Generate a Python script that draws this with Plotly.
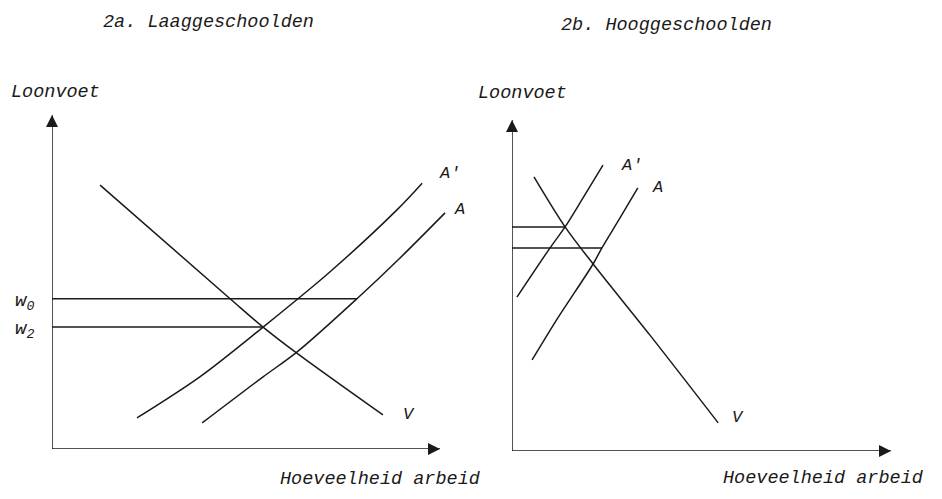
import plotly.graph_objects as go

# The page body has an 8px margin, so the figure is drawn 8px in from the corner.
OFF = 8
W, H = 942 - 2 * OFF, 499 - 2 * OFF

# ---------------- data (abstract units: quantity 0-100, wage 0-100) ----------------
# Panel 2a. Laaggeschoolden
left_V_x = [12.4, 45.9, 54.4, 63.1, 85.3]
left_V_y = [79.0, 45.0, 36.5, 28.7, 10.2]
left_A1_x = [21.9, 38.1, 54.4, 71.6, 88.9, 95.4]
left_A1_y = [9.3, 21.6, 36.5, 53.0, 71.6, 79.6]
left_A_x = [38.7, 54.4, 63.1, 78.6, 89.7, 101.3]
left_A_y = [7.8, 21.6, 29.0, 45.0, 57.2, 70.7]
left_w_levels = [45.0, 36.5]        # w0, w2
left_w_ends = [78.6, 54.4]          # where the horizontal lines stop
left_w_labels = ["w<sub>0</sub>", "w<sub>2</sub>"]

# Panel 2b. Hooggeschoolden
right_A1_x = [1.3, 10.0, 14.0, 18.7, 24.0]
right_A1_y = [46.5, 61.3, 67.7, 76.4, 86.4]
right_A_x = [5.3, 12.1, 21.4, 23.7, 28.5, 33.2]
right_A_y = [27.5, 40.2, 56.5, 61.3, 70.4, 79.5]
right_V_x = [5.8, 14.0, 21.4, 36.4, 54.4]
right_V_y = [82.8, 67.7, 56.5, 35.0, 8.5]
right_w_levels = [67.7, 61.3]
right_w_ends = [14.0, 23.7]

axis_max = 100  # arrow tip of both axes, in data units

titles = ["2a. Laaggeschoolden", "2b. Hooggeschoolden"]
y_title = "Loonvoet"
x_title = "Hoeveelheid arbeid"
curve_labels = ["A'", "A", "V"]

# ---------------- figure ----------------
FONT = "Liberation Mono"
INK = "#1a1a1a"
LW = 1.5

fig = go.Figure()

def line(x, y, xa, ya, shape="linear"):
    fig.add_trace(go.Scatter(x=x, y=y, mode="lines", xaxis=xa, yaxis=ya,
                             line=dict(color=INK, width=LW, shape=shape, smoothing=0.9),
                             hoverinfo="skip", showlegend=False))

def axis_arrow(x, y, xa, ya, symbol):
    line(x, y, xa, ya)
    fig.add_trace(go.Scatter(x=[x[-1]], y=[y[-1]], mode="markers", xaxis=xa, yaxis=ya,
                             marker=dict(symbol=symbol, size=12, color=INK, line=dict(width=0)),
                             cliponaxis=False, hoverinfo="skip", showlegend=False))

for xa, ya in (("x", "y"), ("x2", "y2")):
    axis_arrow([0, 0], [0, axis_max], xa, ya, "arrow-up")
    axis_arrow([0, axis_max], [0, 0], xa, ya, "arrow-right")

# left panel
line(left_V_x, left_V_y, "x", "y", "spline")
line(left_A1_x, left_A1_y, "x", "y", "spline")
line(left_A_x, left_A_y, "x", "y", "spline")
for lv, le in zip(left_w_levels, left_w_ends):
    line([0, le], [lv, lv], "x", "y")

# right panel
line(right_A1_x, right_A1_y, "x2", "y2", "spline")
line(right_A_x, right_A_y, "x2", "y2", "spline")
line(right_V_x, right_V_y, "x2", "y2", "spline")
for lv, le in zip(right_w_levels, right_w_ends):
    line([0, le], [lv, lv], "x2", "y2")

# pixel (window) -> paper helpers
def pxx(p):
    return (p - OFF) / W

def pxy(p):
    return 1 - (p - OFF) / H

ax_common = dict(visible=False, showgrid=False, zeroline=False, fixedrange=True)
fig.update_layout(
    width=W, height=H,
    margin=dict(l=0, r=0, t=0, b=0),
    paper_bgcolor="white", plot_bgcolor="white",
    xaxis=dict(domain=[pxx(52), pxx(470)], range=[0, (470 - 52) / 3.88], anchor="y", **ax_common),
    yaxis=dict(domain=[pxy(449), pxy(105)], range=[0, (449 - 105) / 3.34], anchor="x", **ax_common),
    xaxis2=dict(domain=[pxx(512), pxx(934)], range=[0, (934 - 512) / 3.79], anchor="y2", **ax_common),
    yaxis2=dict(domain=[pxy(451), pxy(110)], range=[0, (451 - 110) / 3.31], anchor="x2", **ax_common),
    showlegend=False,
)

ann = []

def txt(s, x, y, xref, yref, size=18, xanchor="left", yanchor="middle"):
    ann.append(dict(text=f"<i>{s}</i>", x=x, y=y, xref=xref, yref=yref,
                    showarrow=False, xanchor=xanchor, yanchor=yanchor, borderpad=0,
                    font=dict(family=FONT, size=size, color=INK)))

# titles and axis titles (paper positions)
txt(titles[0], pxx(208), pxy(23), "paper", "paper", 18.5, "center")
txt(titles[1], pxx(666), pxy(25), "paper", "paper", 18.5, "center")
txt(y_title, pxx(10), pxy(92), "paper", "paper", 18.5)
txt(y_title, pxx(477), pxy(93), "paper", "paper", 18.5)
txt(x_title, pxx(279), pxy(479), "paper", "paper", 18.5)
txt(x_title, pxx(722), pxy(490), "paper", "paper", 18.5, "left", "bottom")

# curve labels
txt(curve_labels[0], left_A1_x[-1] + 4, left_A1_y[-1] + 3, "x", "y", 17)
txt(curve_labels[1], left_A_x[-1] + 2, left_A_y[-1] + 1, "x", "y", 17)
txt(curve_labels[2], left_V_x[-1] + 5, left_V_y[-1], "x", "y", 17)
txt(curve_labels[0], right_A1_x[-1] + 4.5, right_A1_y[-1], "x2", "y2", 17)
txt(curve_labels[1], right_A_x[-1] + 3.5, right_A_y[-1], "x2", "y2", 17)
txt(curve_labels[2], right_V_x[-1] + 3.5, right_V_y[-1] + 1.5, "x2", "y2", 17)

# wage labels (left of the y-axis, placed in paper space at the level of each line)
y0_px, yscale = 449, 3.34
for lab, lv in zip(left_w_labels, left_w_levels):
    txt(lab, pxx(35), pxy(y0_px - lv * yscale + 3), "paper", "paper", 19, "right")

fig.update_layout(annotations=ann)
fig.write_html("out.html")
